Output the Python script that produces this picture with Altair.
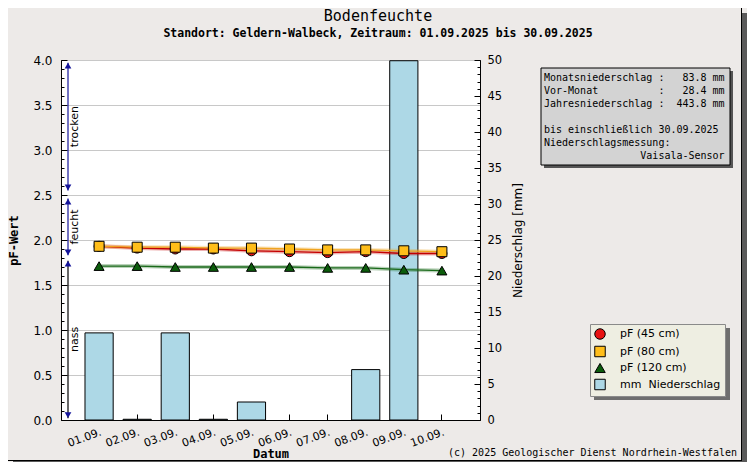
import altair as alt
import pandas as pd

# ---------------- data ----------------
dates = ["01.09.", "02.09.", "03.09.", "04.09.", "05.09.",
         "06.09.", "07.09.", "08.09.", "09.09.", "10.09."]
pf_45 = [1.93, 1.91, 1.90, 1.90, 1.88, 1.87, 1.86, 1.87, 1.85, 1.85]
pf_80 = [1.93, 1.92, 1.92, 1.91, 1.91, 1.90, 1.89, 1.89, 1.88, 1.87]
pf_120 = [1.71, 1.71, 1.70, 1.70, 1.70, 1.70, 1.69, 1.69, 1.67, 1.66]
rain_mm = [12.1, 0.1, 12.1, 0.1, 2.5, 0.0, 0.0, 7.0, 49.9, 0.0]

series_names = ["pF (45 cm)", "pF (80 cm)", "pF (120 cm)"]
rain_name = "mm\u00a0 Niederschlag"

zone_names = ["trocken", "feucht", "nass"]
zone_lo = [2.55, 1.83, 0.02]
zone_hi = [3.97, 2.46, 1.77]

pf_major = [0.0, 0.5, 1.0, 1.5, 2.0, 2.5, 3.0, 3.5, 4.0]
pf_minor = [round(i * 0.1, 1) for i in range(41)]
mm_major = list(range(0, 51, 5))
mm_minor = list(range(0, 51))

title_text = "Bodenfeuchte"
subtitle_text = "Standort: Geldern-Walbeck, Zeitraum: 01.09.2025 bis 30.09.2025"
info_lines = [
    "Monatsniederschlag :   83.8 mm",
    "Vor-Monat          :   28.4 mm",
    "Jahresniederschlag :  443.8 mm",
    "",
    "bis einschließlich 30.09.2025",
    "Niederschlagsmessung:",
    "                Vaisala-Sensor",
]
# zero-width space in front keeps leading (non-breaking) spaces from being trimmed
info_lines = ["\u200b" + s.replace(" ", "\u00a0") for s in info_lines]
credit_text = "(c) 2025 Geologischer Dienst Nordrhein-Westfalen"

# ---------------- tables ----------------
rows = []
for name, vals in zip(series_names, [pf_45, pf_80, pf_120]):
    for d, v in zip(dates, vals):
        rows.append({"date": d, "series": name, "pF": v})
pf_df = pd.DataFrame(rows)
rain_df = pd.DataFrame({"date": dates, "rain": rain_mm, "series": [rain_name] * len(dates)})
zone_df = pd.DataFrame({"zone": zone_names, "lo": zone_lo, "hi": zone_hi})
one = pd.DataFrame({"k": [0]})

W, H = 419, 360
MONO = "DejaVu Sans Mono"
SANS = "DejaVu Sans"

legend_domain = series_names + [rain_name]
fill_scale = alt.Scale(domain=legend_domain,
                       range=["#E81212", "#FFBE1A", "#0B5C0B", "#ADD8E6"])
shape_scale = alt.Scale(domain=legend_domain,
                        range=["circle", "square", "triangle-up", "square"])
stroke_scale = alt.Scale(domain=series_names,
                         range=["#C40000", "#F0A420", "#1A6A1A"])


def xscale():
    return alt.Scale(type="band", domain=dates, paddingInner=0.26, paddingOuter=0.63)


def pf_scale():
    return alt.Scale(domain=[0, 4], nice=False, zero=False)


def mm_scale():
    return alt.Scale(domain=[0, 50], nice=False)


legend = alt.Legend(title=None, orient="none", legendX=529, legendY=264,
                    fillColor="#EEEEE2", strokeColor="#8A8A8A", padding=4,
                    rowPadding=1.5, symbolSize=110, symbolStrokeColor="black",
                    symbolStrokeWidth=1, labelFont=SANS, labelFontSize=11,
                    labelColor="black", labelOffset=14)


def box(x, x2, y, y2, **style):
    return alt.Chart(one).mark_rect(**style).encode(
        x=alt.value(x), x2=alt.value(x2), y=alt.value(y), y2=alt.value(y2))


# ---------------- decorations ----------------
frame = [
    box(681, 686, -47, 402, color="#5A5A5A"),
    box(-48, 686, 401, 402, color="#5A5A5A"),
    box(680, 681, -52, 401, color="black"),
    box(-53, 681, 400, 401, color="black"),
    box(483, 672, 11, 108, color="#555555"),
    box(480, 669, 8, 105, fill="#D3D3D3", stroke="black", strokeWidth=1),
    box(533, 669, 268, 340, color="#6E6E6E"),
]

info = alt.Chart(one).mark_text(text=info_lines, font=MONO, fontSize=10, lineHeight=13,
                                align="left", baseline="top", color="black").encode(
    x=alt.value(483), y=alt.value(13))

credit = alt.Chart(one).mark_text(text=credit_text, font=MONO, fontSize=10,
                                  align="right", baseline="middle", color="black").encode(
    x=alt.value(676), y=alt.value(393))

title = alt.Chart(one).mark_text(text=title_text, font=MONO, fontSize=15,
                                 align="center", baseline="middle", color="black").encode(
    x=alt.value(317), y=alt.value(-44))
subtitle = alt.Chart(one).mark_text(text=subtitle_text, font=MONO, fontSize=11.5,
                                    fontWeight="bold", align="center", baseline="middle",
                                    color="black").encode(
    x=alt.value(317), y=alt.value(-26))

# ---------------- rain ----------------
bars = alt.Chart(rain_df).transform_filter(alt.datum.rain > 0).mark_bar(
    stroke="black", strokeWidth=1).encode(
    x=alt.X("date:N", scale=xscale(), sort=None,
            axis=alt.Axis(orient="bottom", title="Datum", labelAngle=340, labelAlign="right",
                          labelBaseline="top", labelPadding=6, tickSize=0, grid=False,
                          labelFont=SANS, labelFontSize=11, titleFont=MONO,
                          titleFontWeight="bold", titleFontSize=12, titlePadding=0)),
    y=alt.Y("rain:Q", scale=mm_scale(),
            axis=alt.Axis(orient="right", values=mm_major, tickSize=0, labelPadding=7,
                          grid=False, title="Niederschlag [mm]", titleAngle=270,
                          titleBaseline="top", titleFont=SANS, titleFontWeight="normal",
                          titleFontSize=12, titlePadding=11, labelFont=SANS,
                          labelFontSize=11.5)),
    fill=alt.Fill("series:N", scale=fill_scale, legend=legend),
)

rain_tick_major = alt.Chart(rain_df).mark_point(opacity=0).encode(
    y=alt.Y("rain:Q", scale=mm_scale(),
            axis=alt.Axis(orient="left", offset=-W, values=mm_major, tickSize=6,
                          labels=False, domain=False, grid=False, title=None)))
rain_tick_minor = alt.Chart(rain_df).mark_point(opacity=0).encode(
    y=alt.Y("rain:Q", scale=mm_scale(),
            axis=alt.Axis(orient="left", offset=-W, values=mm_minor, tickSize=3,
                          labels=False, domain=False, grid=False, title=None)))

# ---------------- zones ----------------
zone_color = alt.condition(alt.datum.zone == "nass", alt.value("black"), alt.value("#14149A"))
zone_rules = alt.Chart(zone_df).mark_rule(strokeWidth=1.2).encode(
    x=alt.value(7),
    y=alt.Y("lo:Q", scale=pf_scale(),
            axis=alt.Axis(orient="right", offset=-W, values=pf_major, tickSize=6,
                          labels=False, domain=False, grid=False, title=None)),
    y2="hi:Q",
    color=zone_color,
)
arrows_up = alt.Chart(zone_df).mark_point(shape="triangle-up", filled=True, size=45,
                                          yOffset=3, color="#14149A", opacity=1).encode(
    x=alt.value(7),
    y=alt.Y("hi:Q", scale=pf_scale(),
            axis=alt.Axis(orient="right", offset=-W, values=pf_minor, tickSize=3,
                          labels=False, domain=False, grid=False, title=None)))
arrows_down = alt.Chart(zone_df).mark_point(shape="triangle-down", filled=True, size=45,
                                            yOffset=-3, color="#14149A", opacity=1).encode(
    x=alt.value(7),
    y=alt.Y("lo:Q", scale=pf_scale(), axis=None))
zone_text = alt.Chart(zone_df).transform_calculate(
    mid="(datum.lo + datum.hi) / 2").mark_text(
    angle=270, font=SANS, fontSize=11, align="center", baseline="middle",
    color="black").encode(
    x=alt.value(14),
    y=alt.Y("mid:Q", scale=pf_scale(), axis=None),
    text="zone:N")

# ---------------- pF series ----------------
halo = alt.Chart(pf_df).mark_line(strokeWidth=4, opacity=0.3).encode(
    x=alt.X("date:N", scale=xscale(), sort=None, axis=None),
    y=alt.Y("pF:Q", scale=pf_scale(), axis=None),
    stroke=alt.Stroke("series:N", scale=stroke_scale, legend=None))
lines = alt.Chart(pf_df).mark_line(strokeWidth=1.3).encode(
    x=alt.X("date:N", scale=xscale(), sort=None, axis=None),
    y=alt.Y("pF:Q", scale=pf_scale(), axis=None),
    stroke=alt.Stroke("series:N", scale=stroke_scale, legend=None))
points = alt.Chart(pf_df).mark_point(filled=True, size=100, stroke="black",
                                     strokeWidth=1, opacity=1).encode(
    x=alt.X("date:N", scale=xscale(), sort=None,
            axis=alt.Axis(orient="top", offset=-H, tickSize=6, labels=False,
                          domain=False, grid=False, title=None)),
    y=alt.Y("pF:Q", scale=pf_scale(),
            axis=alt.Axis(orient="left", values=pf_major, format=".1f", tickSize=0,
                          labelPadding=9, grid=True, gridColor="#C8C8C8",
                          title="pF-Wert", titleFont=MONO, titleFontWeight="bold",
                          titleFontSize=12, titlePadding=12, labelFont=SANS,
                          labelFontSize=12)),
    fill=alt.Fill("series:N", scale=fill_scale, legend=legend),
    shape=alt.Shape("series:N", scale=shape_scale, legend=legend),
)

chart = alt.layer(
    *frame, info, credit, title, subtitle,
    bars, rain_tick_major, rain_tick_minor,
    zone_rules, arrows_up, arrows_down, zone_text,
    halo, lines, points,
).resolve_scale(x="independent", y="independent").properties(
    width=W, height=H,
    autosize=alt.AutoSizeParams(type="none"),
    padding={"left": 53, "top": 52, "right": 267, "bottom": 42},
    background="#EDEAE8",
).configure_view(fill="white", strokeWidth=0).configure_axis(
    domainColor="black", tickColor="black", labelColor="black", titleColor="black",
)

chart.save("out.html", embed_options={"renderer": "svg", "actions": False})
